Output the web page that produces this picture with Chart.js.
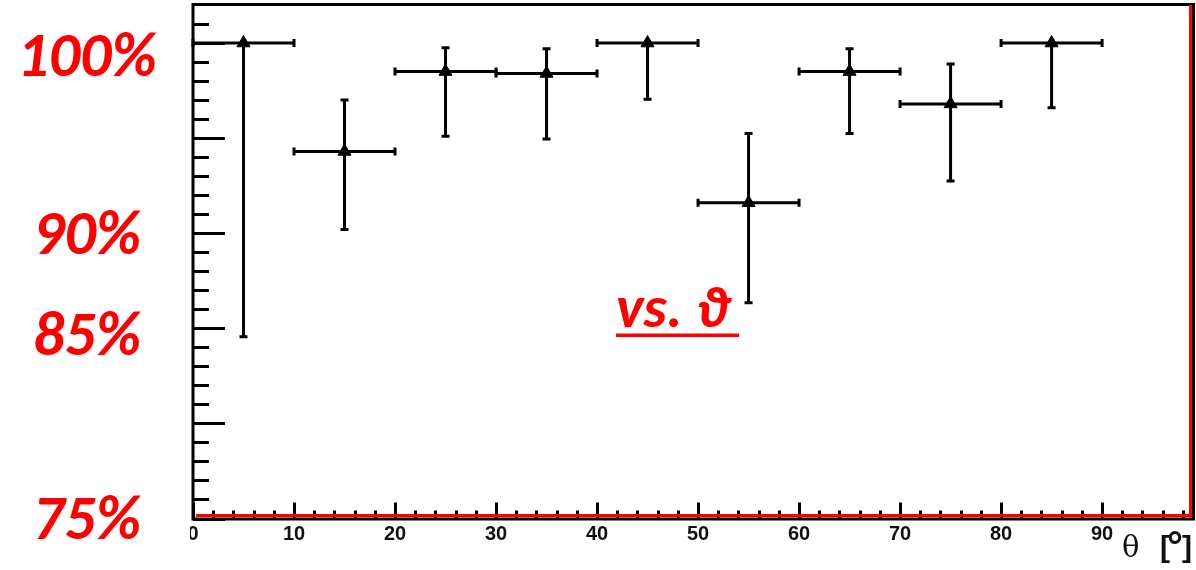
<!DOCTYPE html>
<html lang="en">
<head>
<meta charset="UTF-8">
<title>Efficiency vs theta</title>
<script src="https://cdn.jsdelivr.net/npm/chart.js"></script>
<style>
  body { margin: 0; background: #fff; }
  canvas { display: block; }
</style>
</head>
<body>
<canvas id="effChart" width="1196" height="570"></canvas>
<script>
// theta bins (deg), bin half width, efficiency (%) with asymmetric errors
const thetaBins = [5, 15, 25, 35, 45, 55, 65, 75, 85];
const thetaErr  = [5, 5, 5, 5, 5, 5, 5, 5, 5];
const efficiency = [100.0, 94.3, 98.5, 98.4, 100.0, 91.6, 98.5, 96.8, 100.0];
const errUp   = [0, 2.7, 1.25, 1.3, 0, 3.65, 1.2, 2.1, 0];
const errDown = [15.45, 4.1, 3.4, 3.45, 2.95, 5.25, 3.25, 4.05, 3.4];

// axis labels
const xTickValues = [0, 10, 20, 30, 40, 50, 60, 70, 80, 90];
const xTickLabels = ['0', '10', '20', '30', '40', '50', '60', '70', '80', '90'];
const yLabelValues = [100, 90, 85, 75];
const yLabelTexts  = ['100%', '90%', '85%', '75%'];
const xTitle = 'θ';
const xUnit = ['[', '°', ']'];
const overlayText = 'vs. ϑ';

const RED = '#ff0000';

// error bars: line + small caps at the ends
const errorBars = {
  id: 'errorBars',
  afterDatasetsDraw(chart) {
    const ctx = chart.ctx;
    const xs = chart.scales.x, ys = chart.scales.y;
    ctx.save();
    ctx.strokeStyle = '#000';
    ctx.lineWidth = 3;
    ctx.lineCap = 'butt';
    const cap = 4;
    thetaBins.forEach((t, i) => {
      const px = xs.getPixelForValue(t);
      const py = ys.getPixelForValue(efficiency[i]);
      const x0 = xs.getPixelForValue(t - thetaErr[i]);
      const x1 = xs.getPixelForValue(t + thetaErr[i]);
      const y0 = ys.getPixelForValue(efficiency[i] + errUp[i]);
      const y1 = ys.getPixelForValue(efficiency[i] - errDown[i]);
      ctx.beginPath();
      ctx.moveTo(x0, py); ctx.lineTo(x1, py);
      ctx.moveTo(px, y0); ctx.lineTo(px, y1);
      // caps
      ctx.moveTo(x0, py - cap); ctx.lineTo(x0, py + cap);
      ctx.moveTo(x1, py - cap); ctx.lineTo(x1, py + cap);
      if (errUp[i] > 0) { ctx.moveTo(px - cap, y0); ctx.lineTo(px + cap, y0); }
      if (errDown[i] > 0) { ctx.moveTo(px - cap, y1); ctx.lineTo(px + cap, y1); }
      ctx.stroke();
    });
    ctx.restore();
  }
};

// ROOT-style frame, inward ticks and the red annotations
const frameAndLabels = {
  id: 'frameAndLabels',
  afterDraw(chart) {
    const ctx = chart.ctx;
    const a = chart.chartArea;
    const xs = chart.scales.x, ys = chart.scales.y;
    ctx.save();

    // y ticks (1% minor, 5% major)
    ctx.strokeStyle = '#000';
    ctx.lineWidth = 3;
    ctx.beginPath();
    for (let v = 75; v <= 101; v++) {
      const y = Math.round(ys.getPixelForValue(v)) + 0.5;
      const len = (v % 5 === 0) ? 32 : 16;
      ctx.moveTo(a.left, y); ctx.lineTo(a.left + len, y);
    }
    // x ticks (2 deg minor, 10 deg major)
    for (let v = 0; v <= 98; v += 2) {
      const x = Math.round(xs.getPixelForValue(v)) + 0.5;
      const len = (v % 10 === 0) ? 16 : 8;
      ctx.moveTo(x, a.bottom); ctx.lineTo(x, a.bottom - len);
    }
    ctx.stroke();

    // frame
    ctx.beginPath();
    ctx.moveTo(a.left, a.top - 0.5); ctx.lineTo(a.right, a.top - 0.5);
    ctx.moveTo(a.left, a.top - 2); ctx.lineTo(a.left, a.bottom + 2);
    ctx.moveTo(a.left, a.bottom + 0.5); ctx.lineTo(a.right + 2, a.bottom + 0.5);
    ctx.moveTo(a.right + 0.5, a.top - 2); ctx.lineTo(a.right + 0.5, a.bottom + 2);
    ctx.stroke();

    // red lines along bottom and right edges
    ctx.strokeStyle = RED;
    ctx.lineWidth = 3;
    ctx.beginPath();
    ctx.moveTo(a.left + 3, a.bottom - 3); ctx.lineTo(a.right - 2, a.bottom - 3);
    ctx.moveTo(a.right - 2.5, a.top); ctx.lineTo(a.right - 2.5, a.bottom - 1);
    ctx.stroke();

    // x tick labels
    ctx.save();
    ctx.beginPath();
    ctx.rect(a.left - 3, a.bottom, chart.width, chart.height);
    ctx.clip();
    ctx.fillStyle = '#111';
    ctx.font = 'bold 20px "Liberation Sans", Arial, sans-serif';
    ctx.textAlign = 'center';
    ctx.textBaseline = 'alphabetic';
    xTickValues.forEach((v, i) => {
      ctx.fillText(xTickLabels[i], xs.getPixelForValue(v), a.bottom + 21);
    });
    ctx.restore();

    // axis title
    ctx.fillStyle = '#111';
    ctx.textAlign = 'left';
    ctx.font = '29px "DejaVu Serif", serif';
    ctx.fillText(xTitle, 1122, 557);
    ctx.font = 'bold 30px "Liberation Sans", Arial, sans-serif';
    ctx.fillText(xUnit[0], 1160, 557);
    ctx.font = 'bold 40px "Liberation Sans", Arial, sans-serif';
    ctx.fillText(xUnit[1], 1167, 560);
    ctx.font = 'bold 30px "Liberation Sans", Arial, sans-serif';
    ctx.fillText(xUnit[2], 1182, 557);

    // red percentage labels on the left
    ctx.fillStyle = RED;
    ctx.textAlign = 'center';
    ctx.font = 'italic bold 62px Carlito, "Open Sans", sans-serif';
    const nudge = { 100: 32.5, 90: 20.5, 85: 27, 75: 20.5 };
    yLabelValues.forEach((v, i) => {
      ctx.fillText(yLabelTexts[i], 87, ys.getPixelForValue(v) + nudge[v]);
    });

    // underlined "vs. theta" note
    ctx.textAlign = 'left';
    ctx.font = 'italic bold 59px Carlito, "Open Sans", "Noto Sans", sans-serif';
    ctx.fillText(overlayText, 616, 327);
    ctx.fillRect(616, 333.5, 123, 3.5);

    ctx.restore();
  }
};

const points = thetaBins.map((t, i) => ({ x: t, y: efficiency[i] }));

new Chart(document.getElementById('effChart'), {
  type: 'scatter',
  data: {
    datasets: [{
      data: points,
      pointStyle: 'triangle',
      pointRadius: 7.5,
      backgroundColor: '#000',
      borderColor: '#000',
      borderWidth: 1
    }]
  },
  options: {
    responsive: false,
    animation: false,
    events: [],
    layout: { autoPadding: false, padding: { left: 193, right: 3, top: 5, bottom: 51.5 } },
    plugins: { legend: { display: false }, tooltip: { enabled: false } },
    scales: {
      x: { type: 'linear', min: 0, max: 99, display: false },
      y: { type: 'linear', min: 75, max: 102, display: false }
    }
  },
  plugins: [errorBars, frameAndLabels]
});
</script>
</body>
</html>
